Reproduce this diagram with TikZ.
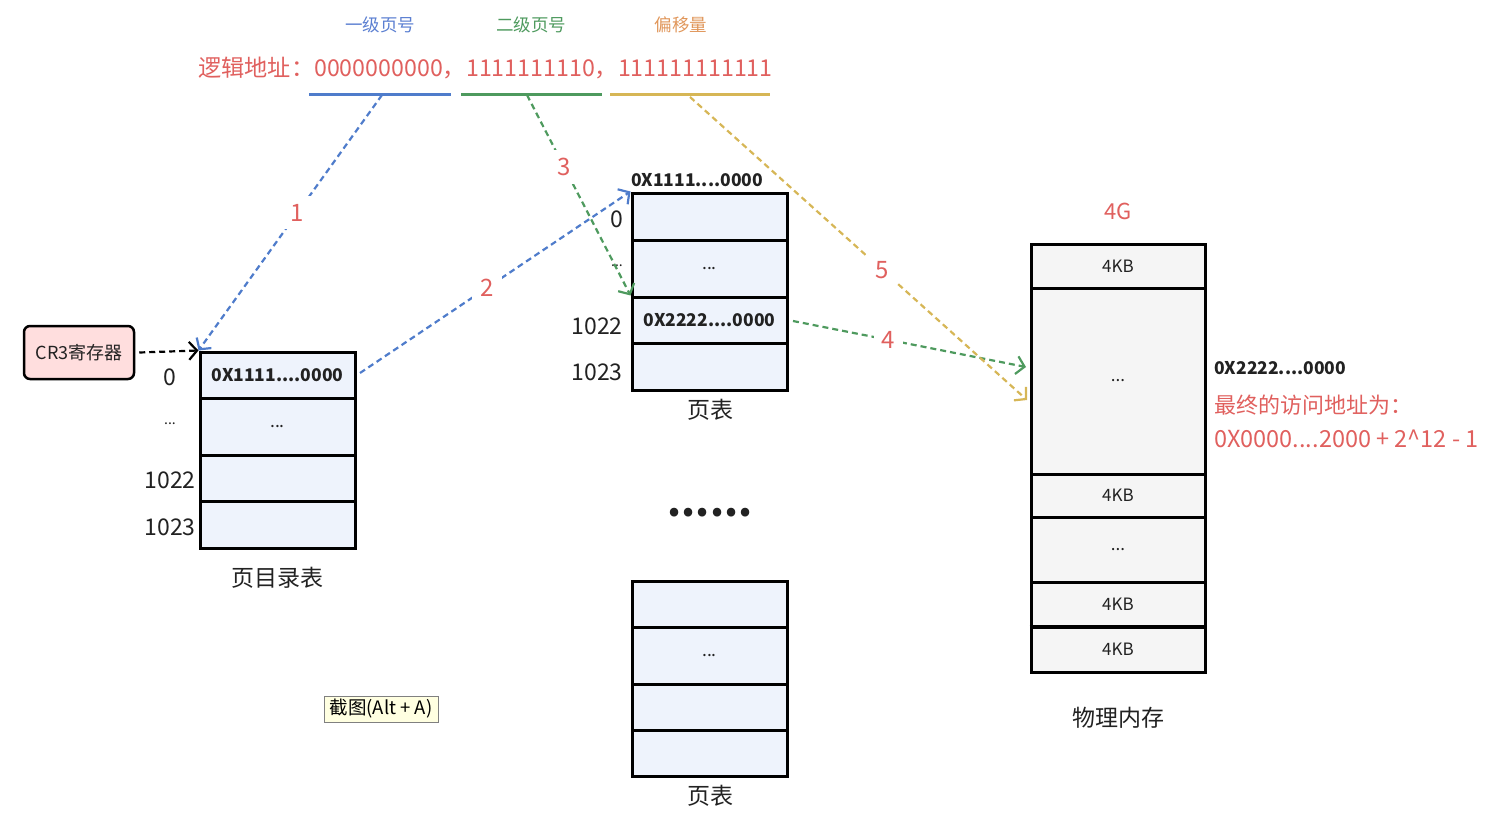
\documentclass[tikz,border=0pt]{standalone}
\usepackage{fontspec}
\setmainfont{Noto Sans CJK SC}
\usetikzlibrary{arrows.meta}
\definecolor{lineblue}{HTML}{4F7CCB}
\definecolor{linegreen}{HTML}{4E9A5E}
\definecolor{lineyellow}{HTML}{D6B656}
\definecolor{txtred}{HTML}{E0605E}
\definecolor{txtblue}{HTML}{5B7FD1}
\definecolor{txtorange}{HTML}{E0965A}
\definecolor{cellfill}{HTML}{EEF3FC}
\definecolor{memfill}{HTML}{F5F5F5}
\definecolor{cr3fill}{HTML}{FFDEDE}
\definecolor{txtdark}{HTML}{222222}
\definecolor{tipfill}{HTML}{FFFFE1}
\tikzset{
  cell/.style={draw=black, line width=3pt, fill=cellfill, rectangle, inner sep=0pt,
    minimum width=155pt, text=txtdark, font=\fontsize{17.5}{20}\selectfont},
  memcell/.style={draw=black, line width=3pt, fill=memfill, rectangle, inner sep=0pt,
    minimum width=174pt, text=txtdark, font=\fontsize{17}{20}\selectfont},
  rowlbl/.style={text=txtdark, font=\fontsize{23}{26}\selectfont, inner sep=0pt},
  caption/.style={text=txtdark, font=\fontsize{23}{26}\selectfont, inner sep=0pt},
  addr/.style={text=txtdark, font=\fontsize{17.5}{20}\selectfont\bfseries, inner sep=0pt},
  steplbl/.style={text=txtred, font=\fontsize{24}{27}\selectfont, fill=white, inner sep=8pt},
  flow/.style={dashed, dash pattern=on 6pt off 4pt, line width=2.2pt,
    -{Straight Barb[length=8pt,width=18pt,line width=2.2pt]}},
  uline/.style={line width=3pt},
  heading/.style={font=\fontsize{17.5}{20}\selectfont},
}
\begin{document}
\begin{tikzpicture}[x=1pt,y=-1pt]
\useasboundingbox (0,0) rectangle (1510,816);

% headings
\node[heading, text=txtblue] (h1) at (380,25) {一级页号};
\node[heading, text=linegreen] (h2) at (531,25) {二级页号};
\node[heading, text=txtorange] (h3) at (681,25) {偏移量};
\node[text=txtred, font=\fontsize{23.2}{26}\selectfont, anchor=west, inner sep=0pt] (la) at (198,68) {逻辑地址：0000000000，1111111110，111111111111};

% underlines
\coordinate (ub1) at (309,94); \coordinate (ue1) at (451,94);
\coordinate (ub2) at (461,94); \coordinate (ue2) at (602,94);
\coordinate (ub3) at (610,94); \coordinate (ue3) at (770,94);
\draw[uline, lineblue] (ub1) -- (ue1);
\draw[uline, linegreen] (ub2) -- (ue2);
\draw[uline, lineyellow] (ub3) -- (ue3);
\coordinate (s1) at (382,95);
\coordinate (s3) at (527,95);
\coordinate (s5) at (690,97);

% CR3
\node[draw=black, line width=2.5pt, rounded corners=6pt, fill=cr3fill, minimum width=110pt,
  minimum height=53pt, inner sep=0pt, text=txtdark, font=\fontsize{18}{20}\selectfont] (cr3) at (79,352.5) {CR3寄存器};

% page directory
\node[cell, minimum height=46pt] (pd0) at (277.5,375) {\bfseries 0X1111....0000};
\node[cell, minimum height=57pt] (pd1) at (277.5,426.5) {...};
\node[cell, minimum height=46pt] (pd2) at (277.5,478) {};
\node[cell, minimum height=47pt] (pd3) at (277.5,524.5) {};
\node[rowlbl] (pdl0) at (170,377) {0};
\node[rowlbl, font=\fontsize{14}{16}\selectfont] (pdl1) at (170,424) {...};
\node[rowlbl] (pdl2) at (170,480) {1022};
\node[rowlbl] (pdl3) at (170,527) {1023};
\node[caption] (pdc) at (277,578) {页目录表};

% page table 1
\node[addr] (pat) at (697,180) {0X1111....0000};
\node[cell, minimum height=47pt] (pa0) at (709.5,216.5) {};
\node[cell, minimum height=57pt] (pa1) at (709.5,268.5) {...};
\node[cell, minimum height=46pt] (pa2) at (709.5,320) {\bfseries 0X2222....0000};
\node[cell, minimum height=47pt] (pa3) at (709.5,366.5) {};
\node[rowlbl] (pal0) at (617,219) {0};
\node[rowlbl, font=\fontsize{14}{16}\selectfont] (pal1) at (617,266) {...};
\node[rowlbl] (pal2) at (597,326) {1022};
\node[rowlbl] (pal3) at (597,372) {1023};
\node[caption] (pac) at (710,410) {页表};

% dots
\node[text=txtdark, font=\fontsize{40}{40}\selectfont\bfseries, inner sep=0pt] (dots) at (710,513) {......};

% page table 2
\node[cell, minimum height=46pt] (pb0) at (709.5,604) {};
\node[cell, minimum height=57pt] (pb1) at (709.5,655.5) {...};
\node[cell, minimum height=46pt] (pb2) at (709.5,707) {};
\node[cell, minimum height=46pt] (pb3) at (709.5,753) {};
\node[caption] (pbc) at (710,796) {页表};

% physical memory
\node[text=txtred, font=\fontsize{22}{25}\selectfont] (g4) at (1118,211) {4G};
\node[memcell, minimum height=44pt] (m0) at (1118,266) {4KB};
\node[memcell, minimum height=186pt] (m1) at (1118,381) {...};
\node[memcell, minimum height=43pt] (m2) at (1118,495.5) {4KB};
\node[memcell, minimum height=65pt] (m3) at (1118,549.5) {...};
\node[memcell, minimum height=45pt] (m4) at (1118,604.5) {4KB};
\node[memcell, minimum height=45pt] (m5) at (1118,649.5) {4KB};
\draw[line width=2.5pt] (m4.south west) ++(0,-2) -- ++(174,0);
\node[caption] (mc) at (1118,718) {物理内存};

\node[addr, anchor=west] (fa) at (1214,368) {0X2222....0000};
\node[text=txtred, font=\fontsize{22}{25}\selectfont, anchor=west, inner sep=0pt] (fb) at (1214,405) {最终的访问地址为：};
\node[text=txtred, font=\fontsize{23.5}{26}\selectfont, anchor=west, inner sep=0pt] (fc) at (1214,439) {0X0000....2000 + 2\textasciicircum 12 - 1};

% tooltip
\node[draw=gray, line width=1pt, fill=tipfill, minimum width=114pt, minimum height=26pt, inner sep=0pt,
  font=\fontsize{18.5}{20}\selectfont] (tip) at (381,709) {截图(Alt + A)};

% connectors
\draw[flow, black] (cr3.east) ++(4,0) coordinate (c0) (c0) -- (pd0.north west);
\coordinate (e1) at (pd0.north west);
\draw[flow, lineblue] (s1) -- node[steplbl, pos=0.46] (l1) {1} (e1);
\coordinate (s2) at (360,373);
\draw[flow, lineblue] (s2) -- node[steplbl, pos=0.47] (l2) {2} (pa0.north west);
\draw[flow, linegreen] (s3) -- node[steplbl, pos=0.36] (l3) {3} (pa2.north west);
\coordinate (s4) at (793,321);
\coordinate (t4) at (1026,367);
\draw[flow, linegreen] (s4) -- node[steplbl, pos=0.41] (l4) {4} (t4);
\coordinate (t5) at (1027,400);
\draw[flow, lineyellow] (s5) -- node[steplbl, pos=0.57] (l5) {5} (t5);
\end{tikzpicture}
\end{document}
